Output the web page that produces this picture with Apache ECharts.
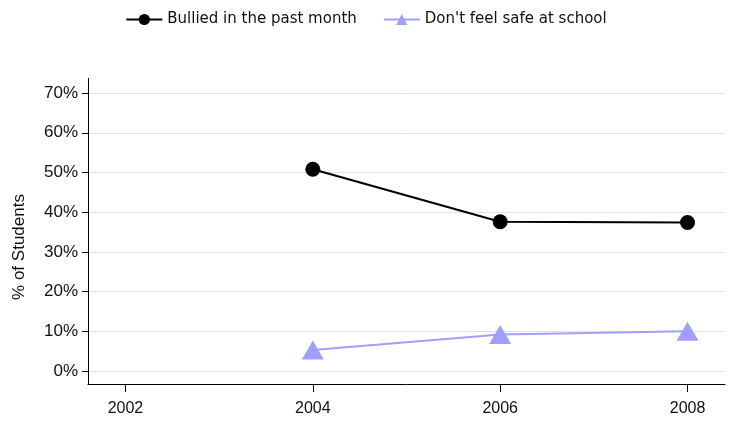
<!DOCTYPE html>
<html>
<head>
<meta charset="utf-8">
<script src="https://cdn.jsdelivr.net/npm/echarts@6/dist/echarts.min.js"></script>
<style>
html,body{margin:0;padding:0;background:#fff;}
#chart{width:732px;height:434px;}
</style>
</head>
<body>
<div id="chart"></div>
<script>
// survey years and values (% of students)
var years = [2004, 2006, 2008];
var bullied = [50.8, 37.6, 37.4];
var notSafe = [5.3, 9.2, 10.0];
var xTicks = [2002, 2004, 2006, 2008];
var yTicks = [0, 10, 20, 30, 40, 50, 60, 70];

// axis ranges
var xMin = 2001.6, xMax = 2008.4;
var yTop = 73.8, yAxisBottom = -3.27, yGridBottom = -5.29;

function pairs(xs, ys){
	var out = [];
	for(var i = 0; i < xs.length; i++){
		out.push([xs[i], ys[i]]);
	}
	return out;
}

var myChart = echarts.init(document.getElementById('chart'));
var option = {
	animation: false,
	legend: {
		top: 7,
		left: 'center',
		itemWidth: 36,
		itemHeight: 14,
		itemGap: 26,
		textStyle: {fontFamily: 'DejaVu Sans', fontSize: 15, color: '#111'},
		data: ['Bullied in the past month', "Don't feel safe at school"]
	},
	// grid reaches a bit below the x axis so its ticks stay inside
	grid: {left: 88, right: 7, top: 78, bottom: 42},
	xAxis: {
		type: 'value',
		min: xMin,
		max: xMax,
		axisLine: {show: true, onZero: true, onZeroAxisIndex: 1, lineStyle: {color: '#000', width: 1}},
		axisTick: {show: true, customValues: xTicks, length: 8, lineStyle: {color: '#000', width: 1}},
		axisLabel: {
			customValues: xTicks,
			formatter: function(v){ return String(v); },
			color: '#111', fontFamily: 'Liberation Sans', fontSize: 16, margin: 9
		},
		splitLine: {show: false}
	},
	yAxis: [{
		type: 'value',
		min: yGridBottom,
		max: yTop,
		name: '% of Students',
		nameLocation: 'middle',
		nameGap: 60,
		nameTextStyle: {fontFamily: 'Liberation Sans', fontSize: 17, color: '#111', padding: [0, 24, 0, 0]},
		axisLine: {show: false},
		axisTick: {show: true, customValues: yTicks, length: 6, lineStyle: {color: '#000'}},
		axisLabel: {customValues: yTicks, formatter: '{value}%', color: '#111', fontFamily: 'Liberation Sans', fontSize: 17, margin: 10},
		splitLine: {show: true, lineStyle: {color: '#e2e2e2', width: 1}}
	}, {
		// helper axis: its zero is where the x axis sits
		type: 'value',
		min: -0.02614,
		max: 1,
		show: false
	}],
	series: [
		{
			name: 'Bullied in the past month',
			type: 'line',
			data: pairs(years, bullied),
			symbol: 'circle',
			symbolSize: 15,
			itemStyle: {color: '#000'},
			lineStyle: {color: '#000', width: 2},
			// the y axis line, stopping at the x axis
			markLine: {
				silent: true,
				symbol: 'none',
				label: {show: false},
				lineStyle: {color: '#000', width: 1, type: 'solid'},
				data: [[{coord: [xMin, yTop]}, {coord: [xMin, yAxisBottom]}]]
			}
		},
		{
			name: "Don't feel safe at school",
			type: 'line',
			data: pairs(years, notSafe),
			symbol: 'triangle',
			symbolSize: [22, 19],
			itemStyle: {color: '#9f9fff'},
			lineStyle: {color: '#9f9fff', width: 2}
		}
	]
};
myChart.setOption(option);
</script>
</body>
</html>
